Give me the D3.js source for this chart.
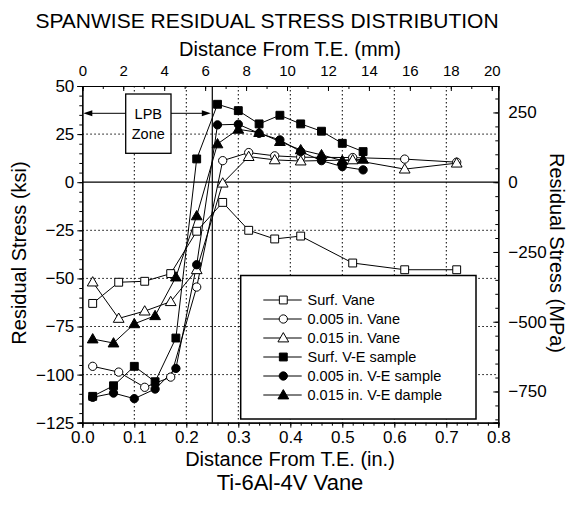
<!DOCTYPE html>
<html><head><meta charset="utf-8">
<script src="https://cdn.jsdelivr.net/npm/d3@7"></script>
<style>body{margin:0;background:#fff}svg{display:block}text{font-family:"Liberation Sans",Arial,sans-serif;fill:#000}</style>
</head><body>
<svg id="c" width="572" height="518"></svg>
<script>
const vaneX = [0.02,0.07,0.12,0.17,0.22,0.27,0.32,0.37,0.42,0.52,0.62,0.72];
const surfVaneY = [-63,-52,-51.5,-47.5,-25.5,-10.5,-25,-29.5,-28,-42,-45.5,-45.5];
const vane005Y = [-95.7,-98.7,-106.6,-101.3,-54.5,11.2,15.4,13.7,13,12.8,12,10.4];
const vane015Y = [-51.9,-70.8,-67,-62.1,-45.5,-0.5,13.3,11.6,11,11.6,6.8,9.9];
const veX = [0.02,0.06,0.10,0.14,0.18,0.22,0.26,0.30,0.34,0.38,0.42,0.46,0.50,0.54];
const veSurfY = [-111.3,-105.8,-95.7,-103.7,-81,12.1,40.5,37.2,30.3,34.8,30.3,26.5,20.2,15.9];
const ve005Y = [-111.8,-109.6,-112.5,-107.5,-96.8,-42.9,29.8,30.1,25.4,22,15.9,11.2,8.1,6.4];
const ve015Y = [-81.5,-83.6,-73.6,-69.4,-49.3,-17.5,19.9,27.5,25.8,21.1,16.8,14.2,11.2,11.9];
const seriesNames = ["Surf. Vane","0.005 in. Vane","0.015 in. Vane","Surf. V-E sample","0.005 in. V-E sample","0.015 in. V-E dample"];
const xTicks = [0,0.1,0.2,0.3,0.4,0.5,0.6,0.7,0.8];
const yTicks = [50,25,0,-25,-50,-75,-100,-125];
const mmTicks = [0,2,4,6,8,10,12,14,16,18,20];
const mpaTicks = [250,0,-250,-500,-750];
const gridX = [0.1,0.2,0.3,0.4,0.5,0.6,0.7];
const gridY = [25,-25,-50,-75,-100];
const lpbX = 0.25;

const svg = d3.select("#c");
const L=82.3,R=498.3,T=86,B=422.7;
const x = d3.scaleLinear().domain([0,0.8]).range([L,R]);
const y = d3.scaleLinear().domain([-125,50]).range([B,T]);
const xmm = d3.scaleLinear().domain([0,0.8*25.4]).range([L,R]);
const ympa = d3.scaleLinear().domain([-125*6.895,50*6.895]).range([B,T]);

// grid
const g = svg.append("g");
g.selectAll(".gx").data(gridX).join("line").attr("x1",d=>x(d)).attr("x2",d=>x(d)).attr("y1",T).attr("y2",B)
 .attr("stroke","#000").attr("stroke-width",1).attr("stroke-dasharray","1.5,2.5");
g.selectAll(".gy").data(gridY).join("line").attr("y1",d=>y(d)).attr("y2",d=>y(d)).attr("x1",L).attr("x2",R)
 .attr("stroke","#000").attr("stroke-width",1).attr("stroke-dasharray","1.5,2.5");
g.append("line").attr("x1",L).attr("x2",R).attr("y1",y(0)).attr("y2",y(0)).attr("stroke","#000").attr("stroke-width",1.2);
g.append("line").attr("x1",x(lpbX)).attr("x2",x(lpbX)).attr("y1",T).attr("y2",B).attr("stroke","#000").attr("stroke-width",1.2);

// axes
const fmt1 = d3.format(".1f");
const axB = svg.append("g").attr("transform",`translate(0,${B})`)
  .call(d3.axisBottom(x).tickValues(d3.range(0,0.8001,0.02)).tickSize(3).tickFormat(""));
const axBM = svg.append("g").attr("transform",`translate(0,${B})`)
  .call(d3.axisBottom(x).tickValues(xTicks).tickSize(5).tickPadding(3).tickFormat(fmt1));
const axL = svg.append("g").attr("transform",`translate(${L},0)`)
  .call(d3.axisLeft(y).tickValues(d3.range(-125,50.01,5)).tickSize(3).tickFormat(""));
const axLM = svg.append("g").attr("transform",`translate(${L},0)`)
  .call(d3.axisLeft(y).tickValues(yTicks).tickSize(5).tickPadding(3).tickFormat(d3.format("d")));
const axT = svg.append("g").attr("transform",`translate(0,${T})`)
  .call(d3.axisTop(xmm).tickValues(d3.range(0,20.01,1)).tickSize(-3).tickFormat(""));
const axTM = svg.append("g").attr("transform",`translate(0,${T})`)
  .call(d3.axisTop(xmm).tickValues(mmTicks).tickSize(-5).tickPadding(10).tickFormat(d3.format("d")));
const axR = svg.append("g").attr("transform",`translate(${R},0)`)
  .call(d3.axisRight(ympa).tickValues(d3.range(-850,301,50)).tickSize(-3).tickFormat(""));
const axRM = svg.append("g").attr("transform",`translate(${R},0)`)
  .call(d3.axisRight(ympa).tickValues(mpaTicks).tickSize(-5).tickPadding(10).tickFormat(d3.format("d")));
[axB,axBM,axL,axLM,axT,axTM,axR,axRM].forEach(a=>{
  a.select(".domain").attr("stroke","#000").attr("stroke-width",1.2);
  a.selectAll(".tick line").attr("stroke","#000");
  a.selectAll("text").style("font-family",'"Liberation Sans",Arial,sans-serif').attr("fill","#000");
});
axBM.selectAll("text").style("font-size","17px");
axLM.selectAll("text").style("font-size","17px");
axRM.selectAll("text").style("font-size","17px");
axTM.selectAll("text").style("font-size","15px");

// titles
const txt=(s,xx,yy,fs,rot)=>{const t=svg.append("text").attr("x",xx).attr("y",yy).attr("text-anchor","middle").style("font-size",fs+"px").text(s);
 if(rot) t.attr("transform",`rotate(${rot},${xx},${yy})`); return t;};
txt("SPANWISE RESIDUAL STRESS DISTRIBUTION",267,28,21);
txt("Distance From T.E. (mm)",290,56,20);
txt("Distance From T.E. (in.)",290,466,20);
txt("Ti-6Al-4V Vane",290,490,22);
txt("Residual Stress (ksi)",26,253,20,-90);
txt("Residual Stress (MPa)",550,253,20,90);

// LPB box & arrows
svg.append("rect").attr("x",125.7).attr("y",94).attr("width",45.3).attr("height",59.3).attr("fill","#fff").attr("stroke","#000").attr("stroke-width",1.3);
txt("LPB",148.3,119,14.5); txt("Zone",148.3,138.5,14.5);
const ay=113.3;
svg.append("line").attr("x1",x(0)+8).attr("x2",125.7).attr("y1",ay).attr("y2",ay).attr("stroke","#000");
svg.append("path").attr("d",`M${x(0)+1},${ay} l9,-3 l0,6 z`).attr("fill","#000");
svg.append("line").attr("x1",171).attr("x2",x(lpbX)-8).attr("y1",ay).attr("y2",ay).attr("stroke","#000");
svg.append("path").attr("d",`M${x(lpbX)-1.5},${ay} l-9,-3 l0,6 z`).attr("fill","#000");

// series
const series = [
 {xs:vaneX,ys:surfVaneY,shape:"square",fill:"#fff"},
 {xs:vaneX,ys:vane005Y,shape:"circle",fill:"#fff"},
 {xs:vaneX,ys:vane015Y,shape:"triangle",fill:"#fff"},
 {xs:veX,ys:veSurfY,shape:"square",fill:"#000"},
 {xs:veX,ys:ve005Y,shape:"circle",fill:"#000"},
 {xs:veX,ys:ve015Y,shape:"triangle",fill:"#000"}
];
const sym = {square:d3.symbol(d3.symbolSquare,62)(), circle:d3.symbol(d3.symbolCircle,54)(), triangle:d3.symbol(d3.symbolTriangle,50)()};
const line = d3.line().x(d=>x(d[0])).y(d=>y(d[1]));
series.forEach(s=>{
  const pts = s.xs.map((v,i)=>[v,s.ys[i]]);
  svg.append("path").attr("d",line(pts)).attr("fill","none").attr("stroke","#000").attr("stroke-width",1);
});
series.forEach(s=>{
  const pts = s.xs.map((v,i)=>[v,s.ys[i]]);
  svg.append("g").selectAll("path").data(pts).join("path")
   .attr("transform",d=>`translate(${x(d[0])},${y(d[1])+(s.shape==="triangle"?0.8:0)})`)
   .attr("d",sym[s.shape]).attr("fill",s.fill).attr("stroke","#000").attr("stroke-width",1);
});

// legend
svg.append("rect").attr("x",240.7).attr("y",275.5).attr("width",235.3).attr("height",143.5).attr("fill","#fff").attr("stroke","#000").attr("stroke-width",1.5);
const lg = svg.append("g");
series.forEach((s,i)=>{
  const ly = 300+i*19;
  lg.append("line").attr("x1",263.3).attr("x2",301.7).attr("y1",ly).attr("y2",ly).attr("stroke","#000");
  lg.append("path").attr("transform",`translate(283.3,${ly+(s.shape==="triangle"?0.8:0)})`).attr("d",sym[s.shape]).attr("fill",s.fill).attr("stroke","#000");
  lg.append("text").attr("x",307.5).attr("y",ly+5.2).style("font-size","14.5px").text(seriesNames[i]);
});
</script>
</body></html>
